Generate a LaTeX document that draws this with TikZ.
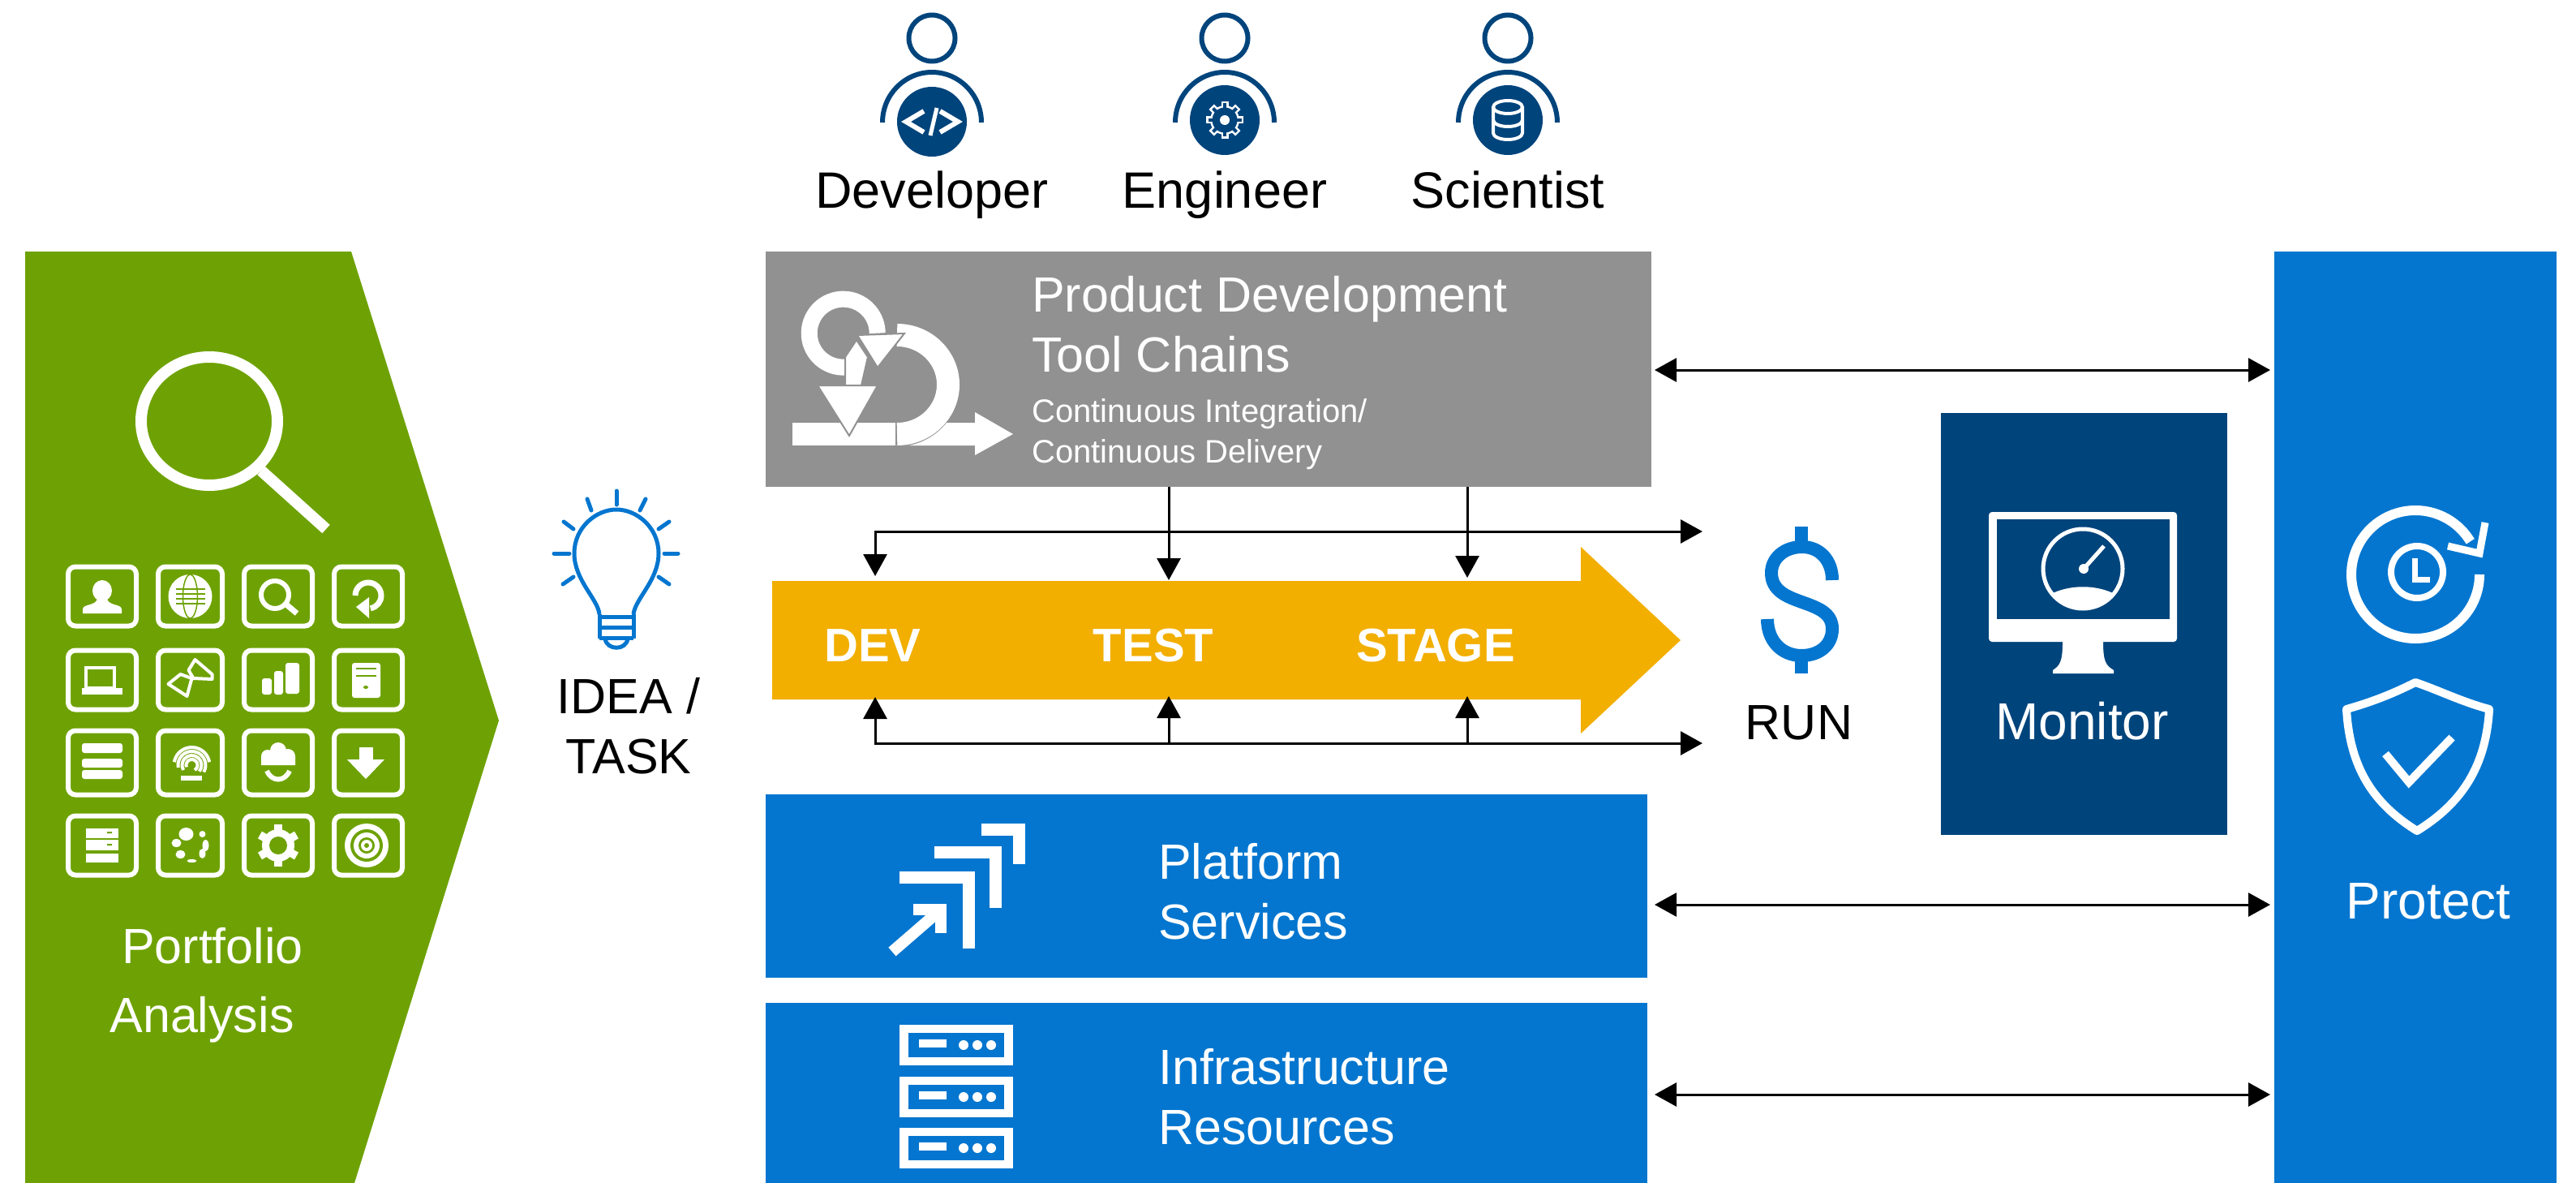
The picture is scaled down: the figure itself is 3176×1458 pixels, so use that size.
\documentclass[tikz,border=0pt]{standalone}
\usepackage{fontspec}
\setmainfont{Liberation Sans}
\usetikzlibrary{arrows.meta, positioning, calc}
\definecolor{leafgreen}{HTML}{6EA204}
\definecolor{dellblue}{HTML}{0476CF}
\definecolor{deepblue}{HTML}{00447C}
\definecolor{chainorange}{HTML}{F2AF00}
\definecolor{chaingray}{HTML}{919191}

\begin{document}
\begin{tikzpicture}[x=1pt,y=-1pt]
\tikzstyle{bluebox} = [rectangle, anchor=north west, inner sep=0pt, outer sep=0pt, fill=dellblue]
\tikzstyle{bigtext} = [font=\fontsize{61}{74}\selectfont, text=white, align=left, inner sep=0pt, anchor=base west]
\tikzstyle{midtext} = [font=\fontsize{61}{74}\selectfont, inner sep=0pt, align=center, anchor=base]
\tikzstyle{stagetext} = [font=\fontsize{58}{70}\selectfont\bfseries, text=white, inner sep=0pt, anchor=base]
\tikzstyle{rolelabel} = [font=\fontsize{63}{74}\selectfont, inner sep=0pt, text height=46pt, text depth=14pt]
\tikzstyle{headring} = [circle, draw=deepblue, line width=6pt, minimum size=57pt, inner sep=0pt]
\tikzstyle{badge} = [circle, fill=deepblue, minimum size=86pt, inner sep=0pt]
\tikzstyle{oneway} = [draw, line width=3pt, -{Triangle[length=27pt,width=29pt]}]
\tikzstyle{twoway} = [draw, line width=3pt, {Triangle[length=27pt,width=29pt]}-{Triangle[length=27pt,width=29pt]}]
\tikzstyle{tile} = [rectangle, rounded corners=9pt, draw=white, line width=6pt, inner sep=0pt]
\tikzstyle{whiteline} = [draw=white, line width=15pt]
\tikzstyle{grayedge} = [fill=white, draw=chaingray, line width=2pt]

\useasboundingbox (0,0) rectangle (3176,1458);

\fill [leafgreen] (31,310) -- (433,310) -- (615,888) -- (437,1458) -- (31,1458) -- cycle;
\fill [chainorange] (952,716) -- (1949,716) -- (1949,674) -- (2072,789) -- (1949,904) -- (1949,862) -- (952,862) -- cycle;

\node (toolchain) [bluebox, fill=chaingray, minimum width=1092pt, minimum height=290pt] at (944,310) {};
\node (platform) [bluebox, minimum width=1087pt, minimum height=226pt] at (944,979) {};
\node (infra) [bluebox, minimum width=1087pt, minimum height=222pt] at (944,1236) {};
\node (protect) [bluebox, minimum width=348pt, minimum height=1148pt] at (2804,310) {};
\node (monitor) [bluebox, fill=deepblue, minimum width=353pt, minimum height=520pt] at (2393,509) {};

\node (portfolio) [midtext, text=white] at (262,1187) {Portfolio};
\node (analysis) [midtext, text=white] at (249,1272) {Analysis};
\node (idea) [midtext] at (775,879) {IDEA /};
\node (task) [midtext] at (775,953) {TASK};
\node (run) [midtext] at (2218,911) {RUN};
\node (monitorlabel) [midtext, text=white, font=\fontsize{64}{74}\selectfont] at (2567,911) {Monitor};
\node (protectlabel) [midtext, text=white, font=\fontsize{64}{74}\selectfont] at (2994,1132) {Protect};
\node (chaintitle) [bigtext] at (1272,458) {Product Development\\Tool Chains};
\node (chainsub) [bigtext, font=\fontsize{40}{50}\selectfont] at (1272,570) {Continuous Integration/\\Continuous Delivery};
\node (platformlabel) [bigtext] at (1428,1157) {Platform\\Services};
\node (infralabel) [bigtext] at (1428,1410) {Infrastructure\\Resources};
\node (devlabel) [stagetext] at (1076,815) {DEV};
\node (testlabel) [stagetext] at (1422,815) {TEST};
\node (stagelabel) [stagetext] at (1770,815) {STAGE};

\node (developerlabel) [rolelabel] at (1149,240) {Developer};
\node (engineerlabel) [rolelabel, right=361pt of developerlabel.center, anchor=center] {Engineer};
\node (scientistlabel) [rolelabel, right=349pt of engineerlabel.center, anchor=center] {Scientist};

\foreach \who/\px/\py in {developer/1149/150, engineer/1510/148, scientist/1859/148} {
  \node (\who head) [headring] at (\px,47) {};
  \draw [deepblue, line width=6pt] (\px-61,151) arc [start angle=180, end angle=0, x radius=61pt, y radius=62pt];
  \node (\who badge) [badge] at (\px,\py) {};
}

\draw [white, line width=6pt] (1139,137) -- (1117,150) -- (1139,163);
\draw [white, line width=6pt] (1159,137) -- (1181,150) -- (1159,163);
\draw [white, line width=5pt] (1155,133) -- (1147,167);
\foreach \a in {0,45,...,315} \draw [white, line width=9pt] ($(1510,148)+(\a:13pt)$) -- ($(1510,148)+(\a:23pt)$);
\fill [white] (1510,148) circle (18pt);
\foreach \a in {0,45,...,315} \draw [deepblue, line width=4pt] ($(1510,148)+(\a:12pt)$) -- ($(1510,148)+(\a:20.5pt)$);
\fill [deepblue] (1510,148) circle (15.5pt);
\fill [white] (1510,148) circle (6pt);
\draw [white, line width=4pt] (1859,132) ellipse [x radius=18pt, y radius=8pt];
\draw [white, line width=4pt] (1841,132) -- (1841,164) arc [start angle=180, end angle=360, x radius=18pt, y radius=8pt] -- (1877,132);
\draw [white, line width=4pt] (1841,148) arc [start angle=180, end angle=360, x radius=18pt, y radius=8pt];

\draw [white, line width=14pt] (258,519) ellipse [x radius=84pt, y radius=79pt];
\draw [white, line width=14pt] (322,580) -- (402,652);

\foreach \col/\cx/\cw in {1/126/84, 2/234.5/79, 3/343/84, 4/454/84} {
  \foreach \row/\cy/\ch in {1/735/73, 2/838/73, 3/940/79, 4/1042/73} {
    \node (tile\col\row) [tile, minimum width=\cw pt, minimum height=\ch pt] at (\cx,\cy) {};
  }
}

\begin{scope}[shift={(tile11.center)}]
\fill [white] (0,-7) ellipse [x radius=12pt, y radius=13pt];
\fill [white] (-24,21) -- (-24,16) .. controls (-24,9) and (-8,12) .. (-6,3) -- (6,3) .. controls (8,12) and (24,9) .. (24,16) -- (24,21) -- cycle;
\end{scope}
\begin{scope}[shift={(tile21.center)}]
\fill [white] (0,0) ellipse [x radius=27pt, y radius=27pt];
\draw [leafgreen, line width=1.5pt] (0,0) ellipse [x radius=9pt, y radius=27pt];
\foreach \ly in {-9,-3,3,9} \draw [leafgreen, line width=1.5pt] (-18,\ly) -- (18,\ly);
\end{scope}
\begin{scope}[shift={(tile31.center)}]
\draw [white, line width=6pt] (-4,-2) circle (17pt);
\draw [white, line width=7pt] (10,10) -- (23,21);
\end{scope}
\begin{scope}[shift={(tile41.center)}]
\draw [white, line width=7pt] (-16,-1) arc [start angle=180, end angle=-80, radius=16pt];
\fill [white] (-15,13) -- (1,1) -- (1,27) -- cycle;
\end{scope}
\begin{scope}[shift={(tile12.center)}]
\draw [white, line width=4pt] (-20,-15) rectangle (15,10);
\fill [white] (-25,10) rectangle (25,18);
\end{scope}
\begin{scope}[shift={(tile22.center)}]
\draw [white, line width=4pt, line join=round] (-27,5) -- (-12,-7) -- (2,-2) -- (-4,20) -- cycle;
\draw [white, line width=4pt, line join=round] (6,-25) -- (27,-7) -- (27,-1) -- (4,-2) -- (-2,-12) -- cycle;
\end{scope}
\begin{scope}[shift={(tile32.center)}]
\fill [white, rounded corners=3pt] (-20,-2) rectangle (-8,18);
\fill [white, rounded corners=3pt] (-5,-11) rectangle (6,18);
\fill [white, rounded corners=3pt] (9,-21) rectangle (26,17);
\end{scope}
\begin{scope}[shift={(tile42.center)}]
\fill [white, rounded corners=3pt] (-20,-21) rectangle (15,22);
\draw [leafgreen, line width=2pt] (-15,-14) -- (10,-14) (-15,-5) -- (10,-5);
\fill [leafgreen] (-3,9) ellipse [x radius=3pt, y radius=2pt];
\end{scope}
\begin{scope}[shift={(tile13.center)}]
\fill [white, rounded corners=3pt] (-25,-24) rectangle (25,-12);
\fill [white, rounded corners=3pt] (-25,-5) rectangle (25,6);
\fill [white, rounded corners=3pt] (-25,9) rectangle (25,20);
\end{scope}
\begin{scope}[shift={(tile23.center)}]
\foreach \r/\s/\e in {7/-60/200, 12/-40/210, 17/-30/190, 22/10/170} \draw [white, line width=4pt] ($(2,3)+(\s:\r pt)$) arc [start angle=\s, end angle=\e, radius=\r pt];
\fill [white] (-12,16) rectangle (14,22);
\end{scope}
\begin{scope}[shift={(tile33.center)}]
\fill [white] (-13,-8) circle (8pt) (0,-15) circle (10pt) (12,-8) circle (9pt) (-21,-8) rectangle (21,3);
\draw [white, line width=6pt] (-14,10) .. controls (-8,24) and (8,24) .. (14,10);
\end{scope}
\begin{scope}[shift={(tile43.center)}]
\fill [white] (-11,-19) rectangle (6,-4);
\fill [white] (-26,-4) -- (20,-4) -- (-3,20) -- cycle;
\end{scope}
\begin{scope}[shift={(tile14.center)}]
\fill [white] (-20,-21) rectangle (20,-9);
\fill [white] (-20,-7) rectangle (20,6);
\fill [white] (-20,10) rectangle (20,21);
\fill [leafgreen] (6,-17) rectangle (12,-15) (6,-2) rectangle (12,0);
\end{scope}
\begin{scope}[shift={(tile24.center)}]
\foreach \dx/\dy/\rx/\ry in {-5/-14/9/8, -17/-3/6/5, -12/11/6/5, 2/19/6/2, 15/10/4/6, 19/0/4/7, 15/-14/4/4} \fill [white] (\dx,\dy) ellipse [x radius=\rx pt, y radius=\ry pt];
\end{scope}
\begin{scope}[shift={(tile34.center)}]
\foreach \a in {30,90,...,330} \draw [white, line width=10pt] (\a:10pt) -- (\a:26pt);
\fill [white] (0,0) circle (20pt);
\fill [leafgreen] (0,0) circle (11pt);
\end{scope}
\begin{scope}[shift={(tile44.center)}]
\fill [white] (-2,0) circle (27pt);
\fill [leafgreen] (-2,0) circle (20pt);
\fill [white] (-2,0) circle (16pt);
\fill [leafgreen] (-2,0) circle (10pt);
\fill [white] (-2,0) circle (7pt);
\fill [leafgreen] (-2,0) circle (3pt);
\end{scope}

\fill [white] (977,521) rectangle (1104,549);
\fill [white] (1125,521) -- (1202,521) -- (1202,508) -- (1249,535) -- (1202,561) -- (1202,549) -- (1105,549) -- cycle;
\draw [chaingray, line width=31pt] (1105,413) arc [start angle=90, end angle=-90, x radius=63pt, y radius=61pt];
\draw [white, line width=28pt] (1106,413) arc [start angle=90, end angle=-90, x radius=63pt, y radius=61pt];
\draw [white, line width=20pt] (1047,452) arc [start angle=-80, end angle=-360, radius=42pt];
\draw [grayedge] (1057,413) -- (1115,411) -- (1082,453) -- cycle;
\draw [grayedge] (1042,475) -- (1042,440) -- (1056,419) -- (1070,440) -- (1062,475) -- cycle;
\draw [grayedge] (1008,475) -- (1082,475) -- (1047,537) -- cycle;

\foreach \rx/\ry in {1109/1263, 1109/1327, 1109/1390} {
  \fill [white] (\rx,\ry) rectangle ++(140,50);
  \fill [dellblue] (\rx+11,\ry+10) rectangle ++(118,30);
  \fill [white] (\rx+24,\ry+18) rectangle ++(34,10);
  \foreach \dx in {79,96,113} \fill [white] (\rx+\dx,\ry+25) circle (6pt);
}

\draw [whiteline] (1210,1022) -- (1256,1022) -- (1256,1065);
\draw [whiteline] (1152,1050) -- (1227,1050) -- (1227,1119);
\draw [whiteline] (1109,1081) -- (1194,1081) -- (1194,1169);
\draw [whiteline, line width=14pt] (1126,1121) -- (1160,1121) -- (1160,1150);
\draw [whiteline, line width=14pt] (1160,1121) -- (1100,1173);

\fill [white, rounded corners=4pt] (2452,631) rectangle (2684,791);
\fill [deepblue] (2462,640) rectangle (2675,763);
\fill [white] (2543,791) -- (2593,791) .. controls (2593,815) and (2596,820) .. (2606,826) -- (2606,830) -- (2531,830) -- (2531,826) .. controls (2540,820) and (2543,815) .. (2543,791) -- cycle;
\draw [white, line width=5pt] (2568,701) circle (49pt);
\begin{scope}
\clip (2568,701) circle (49pt);
\fill [white] (2510,745) .. controls (2540,716) and (2596,716) .. (2626,745) -- (2626,760) -- (2510,760) -- cycle;
\end{scope}
\fill [white] (2569,701) circle (6pt);
\draw [white, line width=5pt] (2569,701) -- (2594,673);

\draw [dellblue, line width=16pt] (2259,715) .. controls (2259,690) and (2243,674) .. (2222,674) .. controls (2200,674) and (2184,688) .. (2184,706) .. controls (2184,750) and (2259,735) .. (2259,775) .. controls (2259,795) and (2243,808) .. (2221,808) .. controls (2197,808) and (2179,790) .. (2179,763);
\draw [dellblue, line width=16pt] (2221,649) -- (2221,674) (2221,808) -- (2221,830);

\draw [white, line width=12pt] (3057,708) arc [start angle=0, end angle=-329, radius=79pt];
\draw [white, line width=9pt] (3064,644) -- (3057,682) -- (3018,673);
\draw [white, line width=8pt] (2980,705) circle (32pt);
\draw [white, line width=7pt] (2977,688) -- (2977,714) -- (2996,714);
\draw [white, line width=10pt, line join=round] (2978,841) .. controls (2950,855) and (2925,865) .. (2893,874) .. controls (2897,945) and (2925,990) .. (2980,1024) .. controls (3035,990) and (3065,945) .. (3069,874) .. controls (3035,865) and (3005,850) .. (2978,841) -- cycle;
\draw [white, line width=10pt] (2941,929) -- (2970,964) -- (3023,909);

\draw [dellblue, line width=5pt] (739,757) .. controls (737,738) and (708,715) .. (708,682) .. controls (708,650) and (735,628) .. (760,628) .. controls (785,628) and (812,650) .. (812,682) .. controls (812,715) and (783,738) .. (781,757);
\draw [dellblue, line width=5pt] (739,757) -- (739,787) (781,757) -- (781,787) (739,760) -- (781,760) (739,773) -- (781,773) (739,786) -- (781,786);
\draw [dellblue, line width=5pt] (746,787) .. controls (748,802) and (772,802) .. (774,787);
\foreach \sx/\sy/\ex/\ey in {760/605/760/622, 724/615/729/629, 796/615/789/629, 695/643/707/652, 825/643/812/652, 683/682/702/682, 819/682/836/682, 707/711/694/720, 812/711/825/720}
  \draw [dellblue, line width=5pt, line cap=round] (\sx,\sy) -- (\ex,\ey);

\coordinate (devtop) at (1079,710);
\coordinate (testtop) at (1441,715);
\coordinate (stagetop) at (1809,712);
\coordinate (topend) at (2099,655);
\coordinate (devbottom) at (1079,859);
\coordinate (testbottom) at (1441,858);
\coordinate (stagebottom) at (1809,858);
\coordinate (bottomend) at (2099,916);
\coordinate (chainport) at (2036,456);
\coordinate (platformport) at (2031,1115);
\coordinate (infraport) at (2031,1349);

\draw [twoway] (devtop) |- (topend);
\draw [oneway] (toolchain.south -| testtop) -- (testtop);
\draw [oneway] (toolchain.south -| stagetop) -- (stagetop);
\draw [twoway] (devbottom) |- (bottomend);
\draw [oneway] (bottomend -| testbottom) -- (testbottom);
\draw [oneway] (bottomend -| stagebottom) -- (stagebottom);
\draw [twoway, shorten <=4pt, shorten >=5pt] (chainport) -- (chainport -| protect.west);
\draw [twoway, shorten <=9pt, shorten >=5pt] (platformport) -- (platformport -| protect.west);
\draw [twoway, shorten <=9pt, shorten >=5pt] (infraport) -- (infraport -| protect.west);

\end{tikzpicture}
\end{document}
